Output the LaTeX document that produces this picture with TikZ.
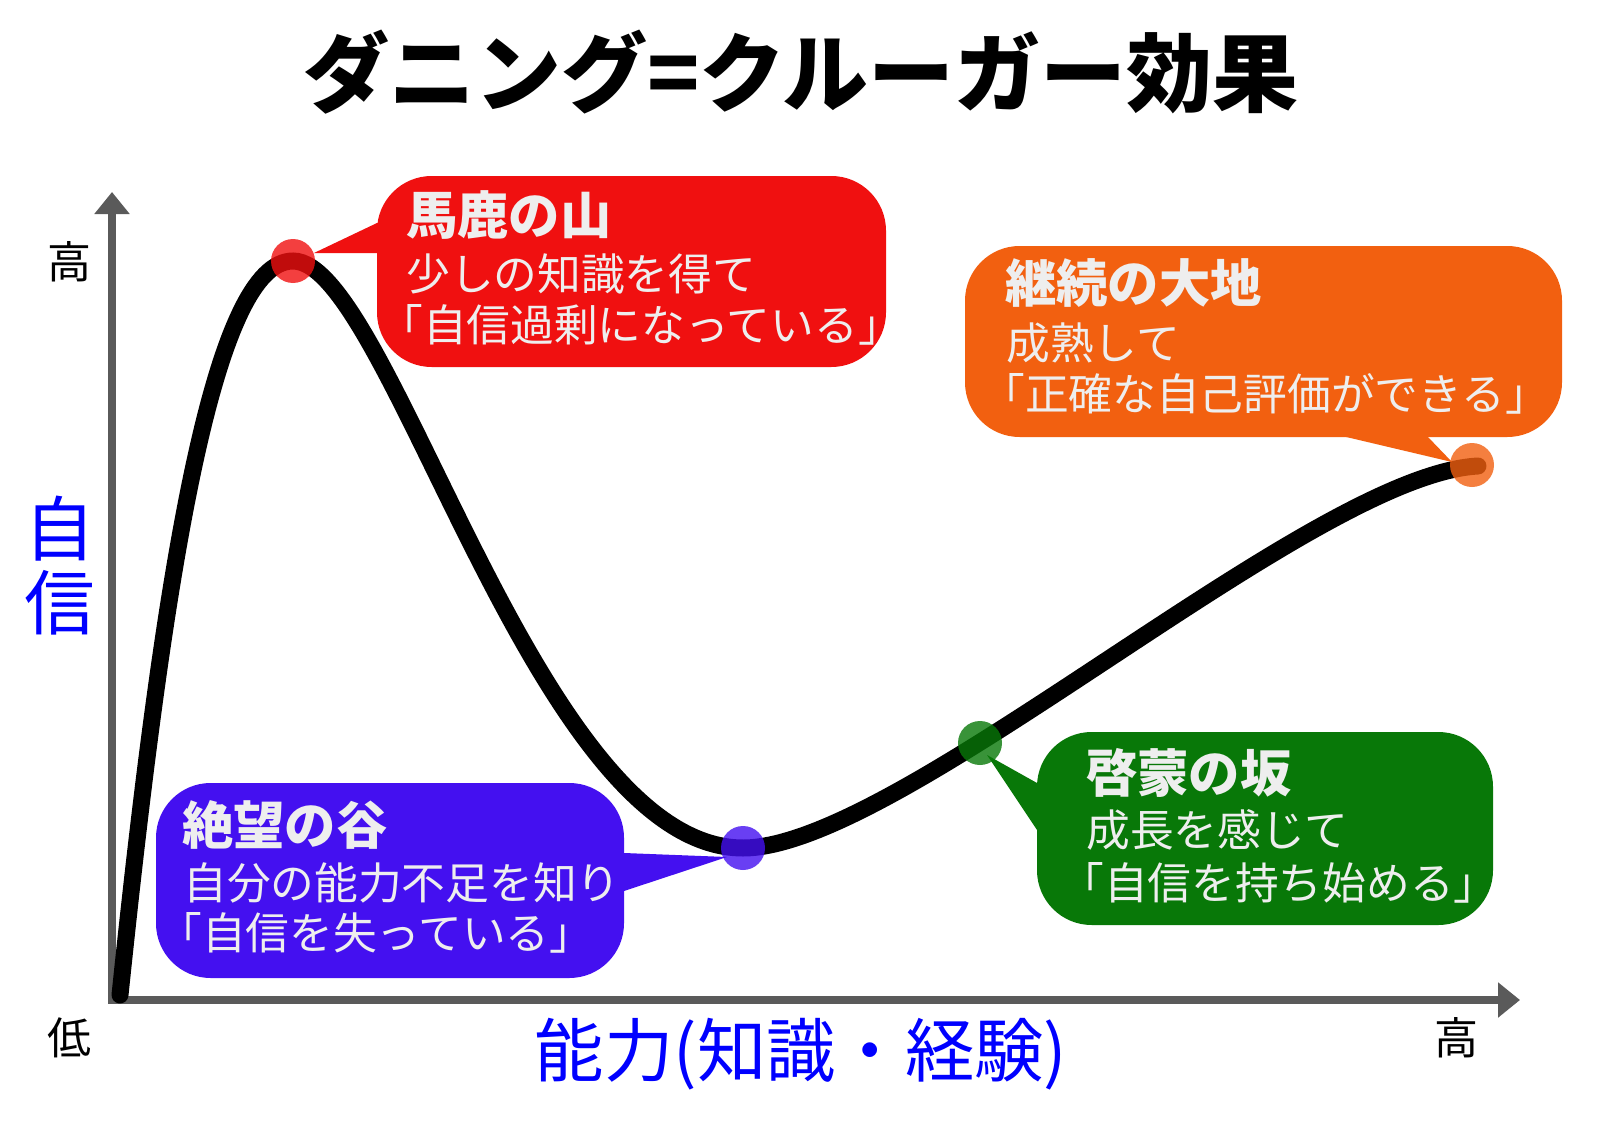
\documentclass[tikz,border=0pt]{standalone}
\usepackage{fontspec}
\setmainfont{Noto Sans CJK JP}
\usetikzlibrary{arrows.meta}
\definecolor{redc}{RGB}{240,16,16}
\definecolor{orgc}{RGB}{242,96,16}
\definecolor{bluc}{RGB}{68,16,240}
\definecolor{grnc}{RGB}{8,120,8}
\definecolor{axc}{RGB}{90,90,90}
\definecolor{txtc}{RGB}{238,238,238}
\definecolor{lblc}{RGB}{0,0,255}
\tikzset{
  callout/.style={rectangle, rounded corners=41pt, inner sep=0pt, outer sep=0pt},
  ttl/.style={anchor=west, inner sep=0pt, text=txtc, font=\bfseries\fontsize{38.5}{38.5}\selectfont},
  body/.style={anchor=west, inner sep=0pt, text=txtc, font=\fontsize{32.8}{32.8}\selectfont},
  pdot/.style={circle, minimum size=33pt, inner sep=0pt, fill opacity=0.8},
  axis/.style={draw=axc, line width=6pt, {Triangle[length=16.5pt,width=25.5pt]}-{Triangle[length=16.5pt,width=25.5pt]}},
  lvl/.style={inner sep=0pt, font=\fontsize{33}{33}\selectfont},
  bluelbl/.style={inner sep=0pt, text=lblc, font=\fontsize{52}{52}\selectfont},
}
\begin{document}
\begin{tikzpicture}[x=0.75pt,y=-0.75pt]
\fill[white] (0,0) rectangle (1600,1131);
\useasboundingbox (0,0) rectangle (1600,1131);

% title
\node[inner sep=0pt, font=\bfseries\fontsize{64.5}{64.5}\selectfont] (title) at (801,72) {ダニング=クルーガー効果};

% axes
\coordinate (ytop) at (112,192);
\coordinate (orig) at (112,1000);
\coordinate (xend) at (1520,1000);
\draw[axis] (ytop) -- (orig) -- (xend);

% axis labels
\node[lvl] (yhigh) at (69,262) {高};
\node[lvl] (low) at (69,1038) {低};
\node[lvl] (xhigh) at (1456,1038) {高};
\node[bluelbl] (xlabel) at (801,1054) {能力(知識・経験)};
\node[bluelbl, font=\fontsize{53}{53}\selectfont] (ylab1) at (60,529) {自};
\node[bluelbl, font=\fontsize{53}{53}\selectfont] (ylab2) at (60,603) {信};

% curve
\coordinate (S) at (120,995);
\coordinate (P) at (293,261);
\coordinate (V) at (743,848);
\coordinate (E) at (1478,466);
\draw[line width=12.75pt, line cap=round, black]
  (S) .. controls (165,560) and (215,261) .. (P)
      .. controls (390,261) and (535,848) .. (V)
      .. controls (900,848) and (1310,475) .. (E);

% callout boxes
\node[callout, fill=redc, minimum width=381.75pt, minimum height=143.25pt] (redbox) at (631.5,271.5) {};
\node[callout, fill=orgc, minimum width=447.75pt, minimum height=143.25pt] (orgbox) at (1263.5,341.5) {};
\node[callout, fill=bluc, minimum width=351pt, minimum height=146.25pt] (blubox) at (390,880.5) {};
\node[callout, fill=grnc, minimum width=342pt, minimum height=144.75pt] (grnbox) at (1265,828.5) {};

% pointers
\coordinate (rp1) at (377,223); \coordinate (rtip) at (314,253); \coordinate (rp2) at (377,253);
\fill[redc] (rp1) -- (rtip) -- (rp2) -- (400,253) -- (400,223) -- cycle;
\coordinate (op1) at (1342,436); \coordinate (otip) at (1452,462); \coordinate (op2) at (1427,436);
\fill[orgc] (op1) -- (otip) -- (op2) -- (1427,420) -- (1342,420) -- cycle;
\coordinate (bp1) at (624,853); \coordinate (btip) at (727,857); \coordinate (bp2) at (624,891);
\fill[bluc] (bp1) -- (btip) -- (bp2) -- (605,891) -- (605,853) -- cycle;
\coordinate (gp1) at (1037,783); \coordinate (gtip) at (987,755); \coordinate (gp2) at (1037,830);
\fill[grnc] (gp1) -- (gtip) -- (gp2) -- (1055,830) -- (1055,783) -- cycle;

% dots
\node[pdot, fill=redc] (reddot) at (293,261) {};
\node[pdot, fill=orgc] (orgdot) at (1472,465) {};
\node[pdot, fill=bluc] (bludot) at (743,848) {};
\node[pdot, fill=grnc] (grndot) at (980,743) {};

% texts
\node[ttl] (rt) at (406,215) {馬鹿の山};
\node[body] (r2) at (406,274) {少しの知識を得て};
\node[body] (r3) at (379,325) {「自信過剰になっている」};

\node[ttl] (ot) at (1005,283) {継続の大地};
\node[body] (o2) at (1006,343) {成熟して};
\node[body] (o3) at (981,394) {「正確な自己評価ができる」};

\node[ttl] (bt) at (182,825) {絶望の谷};
\node[body] (b2) at (183,883) {自分の能力不足を知り};
\node[body] (b3) at (158,933) {「自信を失っている」};

\node[ttl] (gt) at (1086,773) {啓蒙の坂};
\node[body] (g2) at (1086,830) {成長を感じて};
\node[body] (g3) at (1060,883) {「自信を持ち始める」};
\end{tikzpicture}
\end{document}
